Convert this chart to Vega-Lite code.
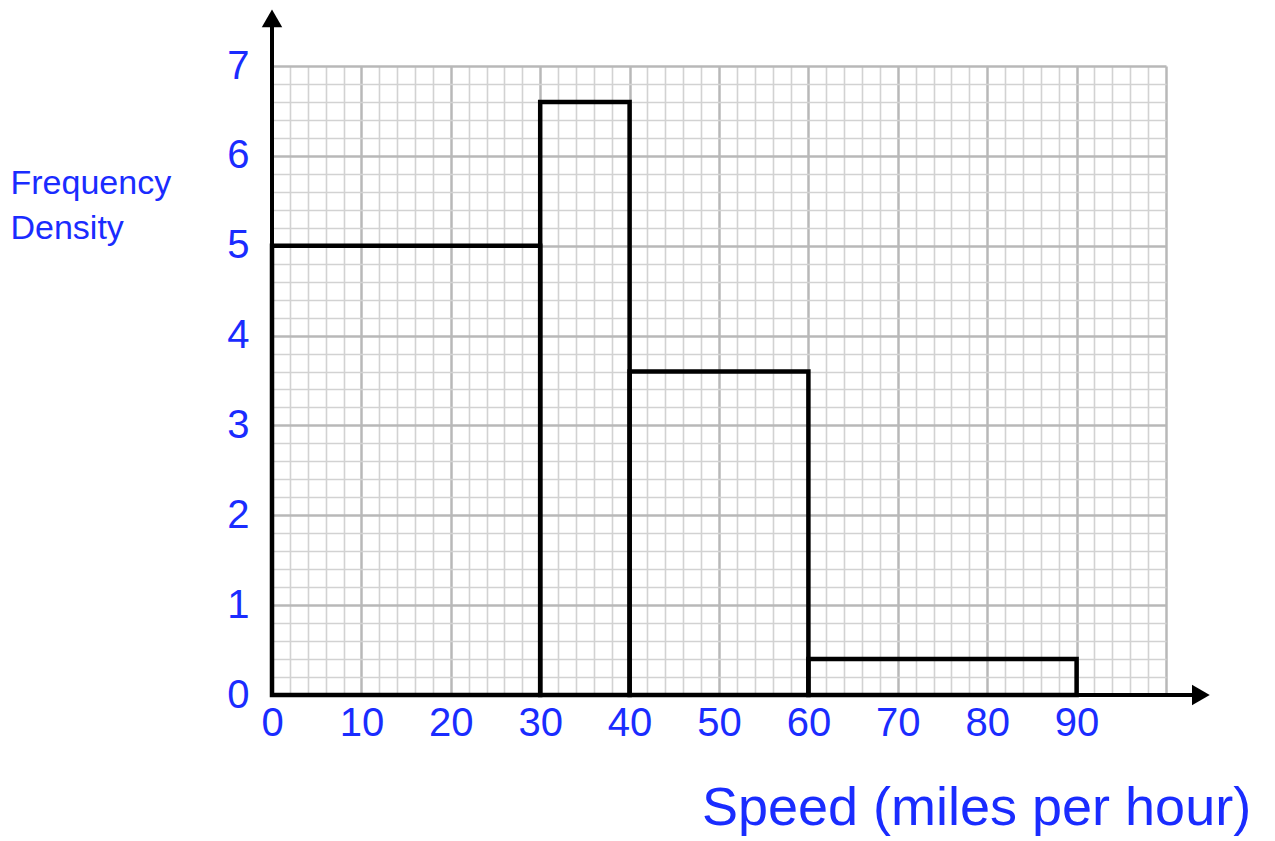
{
  "$schema": "https://vega.github.io/schema/vega-lite/v6.json",
  "width": 894,
  "height": 629,
  "autosize": {"type": "none"},
  "padding": {"left": 272, "top": 66, "right": 109, "bottom": 146},
  "background": "white",
  "config": {"view": {"stroke": null}, "font": "Liberation Sans"},
  "datasets": {
    "bars": [
      {"start": 0, "end": 30, "fd": 5},
      {"start": 30, "end": 40, "fd": 6.6},
      {"start": 40, "end": 60, "fd": 3.6},
      {"start": 60, "end": 90, "fd": 0.4}
    ],
    "axislines": [
      {"x1": 0, "y1": 0, "x2": 0, "y2": 7.5},
      {"x1": 0, "y1": 0, "x2": 103.8, "y2": 0}
    ],
    "uparrow": [{"x": 0, "y": 7.53}],
    "rightarrow": [{"x": 103.9, "y": 0}]
  },
  "layer": [
    {
      "data": {"name": "bars"},
      "mark": {"type": "rect", "fill": "transparent", "stroke": "black", "strokeWidth": 4.5, "strokeJoin": "miter"},
      "encoding": {
        "x": {
          "field": "start", "type": "quantitative",
          "scale": {"domain": [0, 100], "nice": false, "zero": false},
          "axis": {
            "values": [0,2,4,6,8,10,12,14,16,18,20,22,24,26,28,30,32,34,36,38,40,42,44,46,48,50,52,54,56,58,60,62,64,66,68,70,72,74,76,78,80,82,84,86,88,90,92,94,96,98,100],
            "grid": true,
            "gridColor": {"condition": {"test": "datum.value % 10 === 0", "value": "#b8b8b8"}, "value": "#d2d2d2"},
            "gridWidth": {"condition": {"test": "datum.value % 10 === 0", "value": 2.5}, "value": 1.6},
            "gridOpacity": 1,
            "domain": false,
            "ticks": false,
            "labelExpr": "datum.value % 10 === 0 && datum.value <= 90 ? datum.label : ''",
            "labelFontSize": 40,
            "labelColor": "#1a2cff",
            "labelPadding": 8,
            "labelOverlap": false,
            "labelFlush": false,
            "title": "Speed (miles per hour)",
            "titleFontSize": 54,
            "titleFontWeight": "normal",
            "titleColor": "#1a2cff",
            "titleX": 704,
            "titleY": 113,
            "titleAlign": "center",
            "titleBaseline": "middle"
          }
        },
        "x2": {"field": "end"},
        "y": {
          "field": "fd", "type": "quantitative",
          "scale": {"domain": [0, 7], "nice": false, "zero": true},
          "axis": {
            "values": [0,0.2,0.4,0.6,0.8,1,1.2,1.4,1.6,1.8,2,2.2,2.4,2.6,2.8,3,3.2,3.4,3.6,3.8,4,4.2,4.4,4.6,4.8,5,5.2,5.4,5.6,5.8,6,6.2,6.4,6.6,6.8,7],
            "grid": true,
            "gridColor": {"condition": {"test": "abs(datum.value - round(datum.value)) < 0.001", "value": "#b8b8b8"}, "value": "#d2d2d2"},
            "gridWidth": {"condition": {"test": "abs(datum.value - round(datum.value)) < 0.001", "value": 2.5}, "value": 1.6},
            "gridOpacity": 1,
            "domain": false,
            "ticks": false,
            "labelExpr": "abs(datum.value - round(datum.value)) < 0.001 ? format(datum.value, 'd') : ''",
            "labelFontSize": 40,
            "labelColor": "#1a2cff",
            "labelPadding": 23,
            "labelOverlap": false,
            "labelFlush": false,
            "title": ["Frequency", "Density"],
            "titleAngle": 0,
            "titleFontSize": 34,
            "titleFontWeight": "normal",
            "titleColor": "#1a2cff",
            "titleX": -262,
            "titleY": 117,
            "titleAlign": "left",
            "titleBaseline": "middle",
            "titleLineHeight": 45
          }
        },
        "y2": {"datum": 0}
      }
    },
    {
      "data": {"name": "axislines"},
      "mark": {"type": "rule", "color": "black", "strokeWidth": 4},
      "encoding": {
        "x": {
          "field": "x1", "type": "quantitative",
          "axis": {
            "values": [0,2,4,6,8,10,12,14,16,18,20,22,24,26,28,30,32,34,36,38,40,42,44,46,48,50,52,54,56,58,60,62,64,66,68,70,72,74,76,78,80,82,84,86,88,90,92,94,96,98,100],
            "grid": true,
            "gridColor": {"condition": {"test": "datum.value % 10 === 0", "value": "#b8b8b8"}, "value": "#d2d2d2"},
            "gridWidth": {"condition": {"test": "datum.value % 10 === 0", "value": 2.5}, "value": 1.6},
            "gridOpacity": 1,
            "domain": false,
            "ticks": false,
            "labelExpr": "datum.value % 10 === 0 && datum.value <= 90 ? datum.label : ''",
            "labelFontSize": 40,
            "labelColor": "#1a2cff",
            "labelPadding": 8,
            "labelOverlap": false,
            "labelFlush": false,
            "title": "Speed (miles per hour)",
            "titleFontSize": 54,
            "titleFontWeight": "normal",
            "titleColor": "#1a2cff",
            "titleX": 704,
            "titleY": 113,
            "titleAlign": "center",
            "titleBaseline": "middle"
          }
        },
        "y": {
          "field": "y1", "type": "quantitative",
          "axis": {
            "values": [0,0.2,0.4,0.6,0.8,1,1.2,1.4,1.6,1.8,2,2.2,2.4,2.6,2.8,3,3.2,3.4,3.6,3.8,4,4.2,4.4,4.6,4.8,5,5.2,5.4,5.6,5.8,6,6.2,6.4,6.6,6.8,7],
            "grid": true,
            "gridColor": {"condition": {"test": "abs(datum.value - round(datum.value)) < 0.001", "value": "#b8b8b8"}, "value": "#d2d2d2"},
            "gridWidth": {"condition": {"test": "abs(datum.value - round(datum.value)) < 0.001", "value": 2.5}, "value": 1.6},
            "gridOpacity": 1,
            "domain": false,
            "ticks": false,
            "labelExpr": "abs(datum.value - round(datum.value)) < 0.001 ? format(datum.value, 'd') : ''",
            "labelFontSize": 40,
            "labelColor": "#1a2cff",
            "labelPadding": 23,
            "labelOverlap": false,
            "labelFlush": false,
            "title": ["Frequency", "Density"],
            "titleAngle": 0,
            "titleFontSize": 34,
            "titleFontWeight": "normal",
            "titleColor": "#1a2cff",
            "titleX": -262,
            "titleY": 117,
            "titleAlign": "left",
            "titleBaseline": "middle",
            "titleLineHeight": 45
          }
        },
        "x2": {"field": "x2"},
        "y2": {"field": "y2"}
      }
    },
    {
      "data": {"name": "uparrow"},
      "mark": {"type": "point", "shape": "triangle-up", "filled": true, "color": "black", "size": 420, "opacity": 1},
      "encoding": {
        "x": {
          "field": "x", "type": "quantitative",
          "axis": {
            "values": [0,2,4,6,8,10,12,14,16,18,20,22,24,26,28,30,32,34,36,38,40,42,44,46,48,50,52,54,56,58,60,62,64,66,68,70,72,74,76,78,80,82,84,86,88,90,92,94,96,98,100],
            "grid": true,
            "gridColor": {"condition": {"test": "datum.value % 10 === 0", "value": "#b8b8b8"}, "value": "#d2d2d2"},
            "gridWidth": {"condition": {"test": "datum.value % 10 === 0", "value": 2.5}, "value": 1.6},
            "gridOpacity": 1,
            "domain": false,
            "ticks": false,
            "labelExpr": "datum.value % 10 === 0 && datum.value <= 90 ? datum.label : ''",
            "labelFontSize": 40,
            "labelColor": "#1a2cff",
            "labelPadding": 8,
            "labelOverlap": false,
            "labelFlush": false,
            "title": "Speed (miles per hour)",
            "titleFontSize": 54,
            "titleFontWeight": "normal",
            "titleColor": "#1a2cff",
            "titleX": 704,
            "titleY": 113,
            "titleAlign": "center",
            "titleBaseline": "middle"
          }
        },
        "y": {
          "field": "y", "type": "quantitative",
          "axis": {
            "values": [0,0.2,0.4,0.6,0.8,1,1.2,1.4,1.6,1.8,2,2.2,2.4,2.6,2.8,3,3.2,3.4,3.6,3.8,4,4.2,4.4,4.6,4.8,5,5.2,5.4,5.6,5.8,6,6.2,6.4,6.6,6.8,7],
            "grid": true,
            "gridColor": {"condition": {"test": "abs(datum.value - round(datum.value)) < 0.001", "value": "#b8b8b8"}, "value": "#d2d2d2"},
            "gridWidth": {"condition": {"test": "abs(datum.value - round(datum.value)) < 0.001", "value": 2.5}, "value": 1.6},
            "gridOpacity": 1,
            "domain": false,
            "ticks": false,
            "labelExpr": "abs(datum.value - round(datum.value)) < 0.001 ? format(datum.value, 'd') : ''",
            "labelFontSize": 40,
            "labelColor": "#1a2cff",
            "labelPadding": 23,
            "labelOverlap": false,
            "labelFlush": false,
            "title": ["Frequency", "Density"],
            "titleAngle": 0,
            "titleFontSize": 34,
            "titleFontWeight": "normal",
            "titleColor": "#1a2cff",
            "titleX": -262,
            "titleY": 117,
            "titleAlign": "left",
            "titleBaseline": "middle",
            "titleLineHeight": 45
          }
        }
      }
    },
    {
      "data": {"name": "rightarrow"},
      "mark": {"type": "point", "shape": "triangle-right", "filled": true, "color": "black", "size": 420, "opacity": 1},
      "encoding": {
        "x": {
          "field": "x", "type": "quantitative",
          "axis": {
            "values": [0,2,4,6,8,10,12,14,16,18,20,22,24,26,28,30,32,34,36,38,40,42,44,46,48,50,52,54,56,58,60,62,64,66,68,70,72,74,76,78,80,82,84,86,88,90,92,94,96,98,100],
            "grid": true,
            "gridColor": {"condition": {"test": "datum.value % 10 === 0", "value": "#b8b8b8"}, "value": "#d2d2d2"},
            "gridWidth": {"condition": {"test": "datum.value % 10 === 0", "value": 2.5}, "value": 1.6},
            "gridOpacity": 1,
            "domain": false,
            "ticks": false,
            "labelExpr": "datum.value % 10 === 0 && datum.value <= 90 ? datum.label : ''",
            "labelFontSize": 40,
            "labelColor": "#1a2cff",
            "labelPadding": 8,
            "labelOverlap": false,
            "labelFlush": false,
            "title": "Speed (miles per hour)",
            "titleFontSize": 54,
            "titleFontWeight": "normal",
            "titleColor": "#1a2cff",
            "titleX": 704,
            "titleY": 113,
            "titleAlign": "center",
            "titleBaseline": "middle"
          }
        },
        "y": {
          "field": "y", "type": "quantitative",
          "axis": {
            "values": [0,0.2,0.4,0.6,0.8,1,1.2,1.4,1.6,1.8,2,2.2,2.4,2.6,2.8,3,3.2,3.4,3.6,3.8,4,4.2,4.4,4.6,4.8,5,5.2,5.4,5.6,5.8,6,6.2,6.4,6.6,6.8,7],
            "grid": true,
            "gridColor": {"condition": {"test": "abs(datum.value - round(datum.value)) < 0.001", "value": "#b8b8b8"}, "value": "#d2d2d2"},
            "gridWidth": {"condition": {"test": "abs(datum.value - round(datum.value)) < 0.001", "value": 2.5}, "value": 1.6},
            "gridOpacity": 1,
            "domain": false,
            "ticks": false,
            "labelExpr": "abs(datum.value - round(datum.value)) < 0.001 ? format(datum.value, 'd') : ''",
            "labelFontSize": 40,
            "labelColor": "#1a2cff",
            "labelPadding": 23,
            "labelOverlap": false,
            "labelFlush": false,
            "title": ["Frequency", "Density"],
            "titleAngle": 0,
            "titleFontSize": 34,
            "titleFontWeight": "normal",
            "titleColor": "#1a2cff",
            "titleX": -262,
            "titleY": 117,
            "titleAlign": "left",
            "titleBaseline": "middle",
            "titleLineHeight": 45
          }
        }
      }
    }
  ]
}
